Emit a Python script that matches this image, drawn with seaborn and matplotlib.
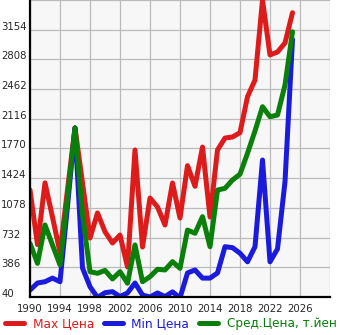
import matplotlib
matplotlib.use("Agg")
import matplotlib.pyplot as plt
import seaborn as sns
import pandas as pd

years = list(range(1990, 2026))
max_price = [1287, 650, 1370, 970, 560, 1290, 2010, 1370, 727, 1019, 800, 669,
             762, 390, 1753, 622, 1193, 1089, 879, 1368, 960, 1570, 1330, 1787,
             972, 1753, 1892, 1904, 1955, 2373, 2568, 3500, 2860, 2894, 3000, 3352]
min_price = [120, 203, 218, 260, 218, 1100, 2010, 378, 160, 35, 90, 102,
             45, 87, 203, 63, 40, 87, 45, 100, 30, 320, 355, 260,
             260, 320, 626, 615, 550, 450, 626, 1636, 450, 600, 1383, 3040]
avg_price = [665, 432, 879, 646, 413, 1200, 2010, 1000, 335, 316, 350, 250,
             335, 200, 646, 218, 277, 363, 355, 452, 374, 820, 782, 976,
             626, 1286, 1306, 1403, 1471, 1714, 1975, 2257, 2140, 2160, 2510, 3130]
series_names = ["Max Цена", "Min Цена", "Сред.Цена, т.йен"]
series_colors = ["#dd1b1b", "#1b1bdd", "#0a800a"]
y_ticks = [40, 386, 732, 1078, 1424, 1770, 2116, 2462, 2808, 3154]
x_ticks = [1990, 1994, 1998, 2002, 2006, 2010, 2014, 2018, 2022, 2026]

df = pd.concat([
    pd.DataFrame({"year": years, "price": vals, "series": name})
    for name, vals in zip(series_names, [max_price, min_price, avg_price])
])

sns.set_style("whitegrid", {"axes.facecolor": "#f7f7f7", "grid.color": "#bbbbbb",
                            "axes.edgecolor": "black"})
plt.rcParams["font.family"] = ["DejaVu Sans"]

fig = plt.figure(figsize=(3.45, 3.35), dpi=100)
ax = fig.add_axes([30 / 345, 38 / 335, 300 / 345, 297 / 335])
sns.lineplot(data=df, x="year", y="price", hue="series", hue_order=series_names,
             palette=dict(zip(series_names, series_colors)), linewidth=3.6,
             ax=ax, legend=False, zorder=3)

ax.set_xlim(1990, 2030)
ax.set_ylim(40, 3500)
ax.set_xticks(x_ticks + [2030])
ax.set_xticklabels([str(t) for t in x_ticks] + [""])
ax.set_yticks(y_ticks + [3500])
ax.set_yticklabels([str(t) for t in y_ticks] + [""])
ax.grid(True, color="#bbbbbb", linewidth=0.9)
ax.set_xlabel("")
ax.set_ylabel("")
for s in ["top", "right"]:
    ax.spines[s].set_visible(False)
for s in ["left", "bottom"]:
    ax.spines[s].set_linewidth(1.6)
    ax.spines[s].set_color("black")
    ax.spines[s].set_zorder(5)
ax.tick_params(axis="x", length=2.5, width=1, color="black", pad=2.5, labelsize=7.3)
ax.tick_params(axis="y", length=2.2, width=1, color="black", pad=18.5, labelsize=7.3)
for lab in ax.get_yticklabels():
    lab.set_horizontalalignment("left")
    lab.set_verticalalignment("baseline")

handles = [plt.Line2D([0], [0], color=c, linewidth=3.6) for c in series_colors]
leg = fig.legend(handles, series_names, loc="lower left", bbox_to_anchor=(0.0, 0.0),
                 ncol=3, frameon=False, fontsize=8.7, handlelength=1.6,
                 handletextpad=0.7, columnspacing=0.8, borderpad=0.3, borderaxespad=0.1)
for t, c in zip(leg.get_texts(), series_colors):
    t.set_color(c)

fig.savefig("out.png", dpi=100)
